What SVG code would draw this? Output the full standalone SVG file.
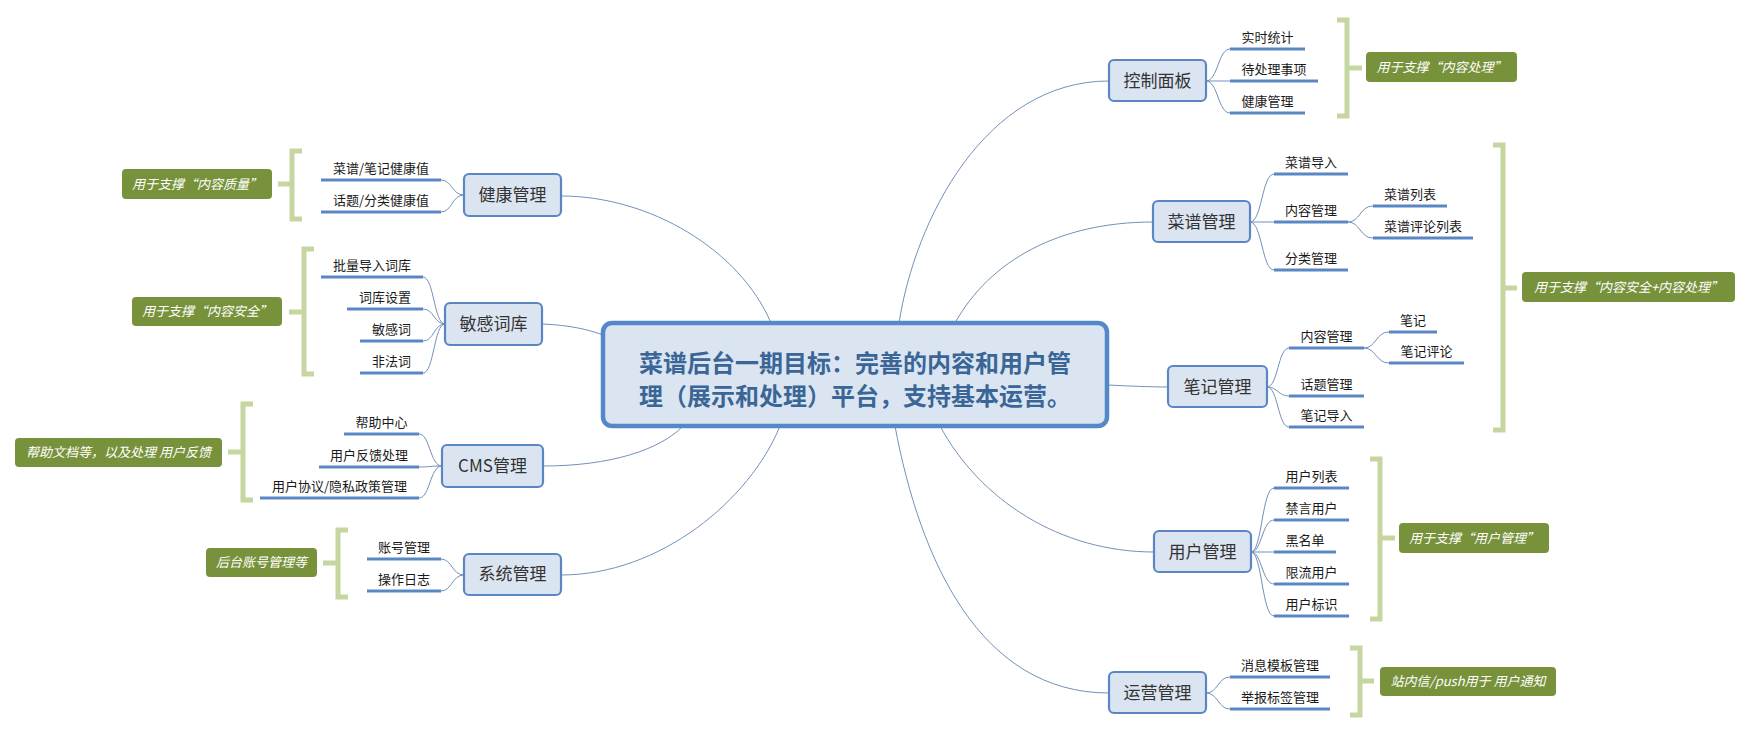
<svg xmlns="http://www.w3.org/2000/svg" width="1751" height="735" viewBox="0 0 1751 735">
<style>
text{font-family:"Noto Sans CJK SC","Microsoft YaHei",sans-serif;}
.node rect{fill:#dbe5f1;stroke:#5a87c4;stroke-width:2.2;}
.node text{font-size:17px;fill:#333;text-anchor:middle;}
.leaf text{font-size:13px;fill:#1a1a1a;text-anchor:middle;}
.ul{stroke:#5a87c4;stroke-width:3;fill:none;}
.conn path{fill:none;stroke:#7391bb;stroke-width:1;}
.br{fill:none;stroke:#c5d6a0;stroke-width:5;}
.note rect{fill:#77923b;}
.note text{font-size:13px;fill:#fff;font-style:italic;text-anchor:middle;}
</style>
<rect width="1751" height="735" fill="#fff"/>

<g id="connectors" class="conn">
<!-- center to main -->
<path d="M561,196 C650,196 740,250 771,323"/>
<path d="M542,324 C570,325 590,330 603,335"/>
<path d="M543,466 C610,466 660,450 683,426"/>
<path d="M561,575 C660,575 750,500 780,426"/>
<path d="M899,323 C915,220 985,81 1109,81"/>
<path d="M955,323 C990,260 1060,222 1153,222"/>
<path d="M1107,385 C1130,386 1150,387 1168,387"/>
<path d="M940,426 C980,500 1060,552 1154,552"/>
<path d="M895,426 C920,560 980,693 1109,693"/>
<!-- 健康管理 -->
<path d="M464,195 C452,195 452,180 441,180"/>
<path d="M464,195 C452,195 452,212 441,212"/>
<!-- 敏感词库 -->
<path d="M445,324 C434,324 434,277 423,277"/>
<path d="M445,324 C434,324 434,309 423,309"/>
<path d="M445,324 C434,324 434,341 423,341"/>
<path d="M445,324 C434,324 434,373 423,373"/>
<!-- CMS -->
<path d="M442,466 C430,466 430,434 419,434"/>
<path d="M442,466 C430,466 430,467 419,467"/>
<path d="M442,466 C430,466 430,498 419,498"/>
<!-- 系统管理 -->
<path d="M464,575 C452,575 452,559 441,559"/>
<path d="M464,575 C452,575 452,591 441,591"/>
<!-- 控制面板 -->
<path d="M1206,81 C1218,81 1218,49 1230,49"/>
<path d="M1206,81 L1230,81"/>
<path d="M1206,81 C1218,81 1218,113 1230,113"/>
<!-- 菜谱管理 -->
<path d="M1250,222 C1262,222 1262,174 1274,174"/>
<path d="M1250,222 L1274,222"/>
<path d="M1250,222 C1262,222 1262,270 1274,270"/>
<path d="M1348,222 C1360,222 1360,206 1373,206"/>
<path d="M1348,222 C1360,222 1360,238 1373,238"/>
<!-- 笔记管理 -->
<path d="M1267,387 C1278,387 1278,348 1289,348"/>
<path d="M1267,387 C1278,387 1278,396 1289,396"/>
<path d="M1267,387 C1278,387 1278,427 1289,427"/>
<path d="M1364,348 C1376,348 1376,332 1389,332"/>
<path d="M1364,348 C1376,348 1376,363 1389,363"/>
<!-- 用户管理 -->
<path d="M1251,552 C1262,552 1262,488 1274,488"/>
<path d="M1251,552 C1262,552 1262,520 1274,520"/>
<path d="M1251,552 L1274,552"/>
<path d="M1251,552 C1262,552 1262,584 1274,584"/>
<path d="M1251,552 C1262,552 1262,616 1274,616"/>
<!-- 运营管理 -->
<path d="M1206,693 C1218,693 1218,677 1230,677"/>
<path d="M1206,693 C1218,693 1218,709 1230,709"/>
</g>

<g id="center">
<rect x="603" y="323" width="504" height="103" rx="9" fill="#dbe5f1" stroke="#5588c8" stroke-width="4.5"/>
<text x="639" y="372" font-size="24" font-weight="bold" fill="#3a6597">菜谱后台一期目标：完善的内容和用户管</text>
<text x="639" y="405" font-size="24" font-weight="bold" fill="#3a6597">理（展示和处理）平台，支持基本运营。</text>
</g>

<!-- 健康管理 -->
<g id="n-health" class="node"><rect x="464" y="174" width="97" height="42" rx="5"/><text x="512.5" y="201">健康管理</text></g>
<g id="n-health-kids" class="leaf">
<path class="ul" d="M321,180 H441 M321,212 H441"/>
<text x="381" y="173">菜谱/笔记健康值</text>
<text x="381" y="205">话题/分类健康值</text>
</g>
<g id="n-health-note" class="note">
<path class="br" d="M302,151 H292 V219 H302 M292,184 H278"/>
<rect x="122" y="169" width="150" height="30" rx="4"/><text x="197" y="189">用于支撑“内容质量”</text>
</g>

<!-- 敏感词库 -->
<g id="n-words" class="node"><rect x="445" y="303" width="97" height="42" rx="5"/><text x="493.5" y="330">敏感词库</text></g>
<g id="n-words-kids" class="leaf">
<path class="ul" d="M321,277 H423 M347,309 H423 M360,341 H423 M360,373 H423"/>
<text x="372" y="270">批量导入词库</text>
<text x="385" y="302">词库设置</text>
<text x="391.5" y="334">敏感词</text>
<text x="391.5" y="366">非法词</text>
</g>
<g id="n-words-note" class="note">
<path class="br" d="M314,249 H304 V374 H314 M304,312 H289"/>
<rect x="132" y="297" width="150" height="29" rx="4"/><text x="207" y="316">用于支撑“内容安全”</text>
</g>

<!-- CMS管理 -->
<g id="n-cms" class="node"><rect x="442" y="445" width="101" height="42" rx="5"/><text x="492.5" y="472">CMS管理</text></g>
<g id="n-cms-kids" class="leaf">
<path class="ul" d="M344,434 H419 M319,467 H419 M260,498 H419"/>
<text x="381.5" y="427">帮助中心</text>
<text x="369" y="460">用户反馈处理</text>
<text x="339.5" y="491">用户协议/隐私政策管理</text>
</g>
<g id="n-cms-note" class="note">
<path class="br" d="M253,404 H243 V500 H253 M243,452 H228"/>
<rect x="15" y="438" width="207" height="29" rx="4"/><text x="118.5" y="457">帮助文档等，以及处理 用户反馈</text>
</g>

<!-- 系统管理 -->
<g id="n-sys" class="node"><rect x="464" y="554" width="97" height="41" rx="5"/><text x="512.5" y="580">系统管理</text></g>
<g id="n-sys-kids" class="leaf">
<path class="ul" d="M367,559 H441 M367,591 H441"/>
<text x="404" y="552">账号管理</text>
<text x="404" y="584">操作日志</text>
</g>
<g id="n-sys-note" class="note">
<path class="br" d="M348,530 H338 V597 H348 M338,563 H323"/>
<rect x="206" y="548" width="111" height="29" rx="4"/><text x="261.5" y="567">后台账号管理等</text>
</g>

<!-- 控制面板 -->
<g id="n-dash" class="node"><rect x="1109" y="60" width="97" height="41" rx="5"/><text x="1157.5" y="87">控制面板</text></g>
<g id="n-dash-kids" class="leaf">
<path class="ul" d="M1230,49 H1305 M1230,81 H1318 M1230,113 H1305"/>
<text x="1267.5" y="42">实时统计</text>
<text x="1274" y="74">待处理事项</text>
<text x="1267.5" y="106">健康管理</text>
</g>
<g id="n-dash-note" class="note">
<path class="br" d="M1337,20 H1347 V116 H1337 M1347,68 H1362"/>
<rect x="1366" y="52" width="151" height="30" rx="4"/><text x="1441.5" y="72">用于支撑“内容处理”</text>
</g>

<!-- 菜谱管理 -->
<g id="n-recipe" class="node"><rect x="1153" y="201" width="97" height="41" rx="5"/><text x="1201.5" y="228">菜谱管理</text></g>
<g id="n-recipe-kids" class="leaf">
<path class="ul" d="M1274,174 H1348 M1274,222 H1348 M1274,270 H1348 M1373,206 H1447 M1373,238 H1473"/>
<text x="1311" y="167">菜谱导入</text>
<text x="1311" y="215">内容管理</text>
<text x="1311" y="263">分类管理</text>
<text x="1410" y="199">菜谱列表</text>
<text x="1423" y="231">菜谱评论列表</text>
</g>
<g id="n-content-note" class="note">
<path class="br" d="M1493,145 H1503 V430 H1493 M1503,288 H1517"/>
<rect x="1522" y="272" width="213" height="30" rx="4"/><text x="1628.5" y="292">用于支撑“内容安全+内容处理”</text>
</g>

<!-- 笔记管理 -->
<g id="n-note" class="node"><rect x="1168" y="366" width="99" height="41" rx="5"/><text x="1217.5" y="393">笔记管理</text></g>
<g id="n-note-kids" class="leaf">
<path class="ul" d="M1289,348 H1364 M1289,396 H1364 M1289,427 H1364 M1389,332 H1437 M1389,363 H1464"/>
<text x="1326.5" y="341">内容管理</text>
<text x="1326.5" y="389">话题管理</text>
<text x="1326.5" y="420">笔记导入</text>
<text x="1413" y="325">笔记</text>
<text x="1426.5" y="356">笔记评论</text>
</g>

<!-- 用户管理 -->
<g id="n-user" class="node"><rect x="1154" y="531" width="97" height="41" rx="5"/><text x="1202.5" y="558">用户管理</text></g>
<g id="n-user-kids" class="leaf">
<path class="ul" d="M1274,488 H1349 M1274,520 H1349 M1274,552 H1336 M1274,584 H1349 M1274,616 H1349"/>
<text x="1311.5" y="481">用户列表</text>
<text x="1311.5" y="513">禁言用户</text>
<text x="1305" y="545">黑名单</text>
<text x="1311.5" y="577">限流用户</text>
<text x="1311.5" y="609">用户标识</text>
</g>
<g id="n-user-note" class="note">
<path class="br" d="M1370,459 H1380 V619 H1370 M1380,538 H1395"/>
<rect x="1399" y="523" width="150" height="30" rx="4"/><text x="1474" y="543">用于支撑“用户管理”</text>
</g>

<!-- 运营管理 -->
<g id="n-ops" class="node"><rect x="1109" y="672" width="97" height="41" rx="5"/><text x="1157.5" y="699">运营管理</text></g>
<g id="n-ops-kids" class="leaf">
<path class="ul" d="M1230,677 H1330 M1230,709 H1330"/>
<text x="1280" y="670">消息模板管理</text>
<text x="1280" y="702">举报标签管理</text>
</g>
<g id="n-ops-note" class="note">
<path class="br" d="M1350,648 H1360 V715 H1350 M1360,681 H1374"/>
<rect x="1380" y="667" width="176" height="29" rx="4"/><text x="1468" y="686">站内信/push用于 用户通知</text>
</g>
</svg>
